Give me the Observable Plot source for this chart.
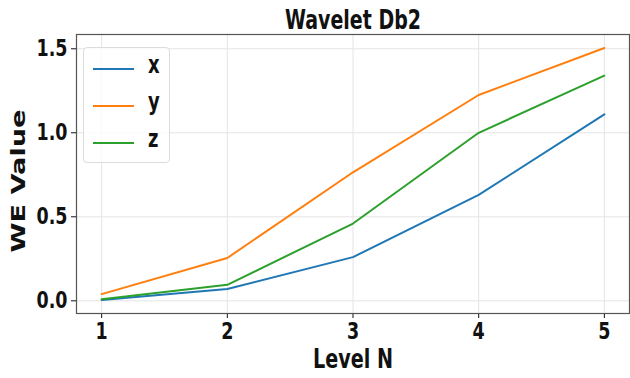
<!DOCTYPE html>
<html><head><meta charset="utf-8">
<script src="https://cdn.jsdelivr.net/npm/d3@7"></script>
<script src="https://cdn.jsdelivr.net/npm/@observablehq/plot@0.6"></script>
<style>
body{margin:0;background:#fff;}
#wrap{position:relative;width:630px;height:378px;font-family:"DejaVu Sans",sans-serif;}
#legend{position:absolute;left:83px;top:47px;width:87px;height:116px;border:1px solid #dcdcdc;border-radius:4px;background:rgba(255,255,255,0.8);box-sizing:border-box;}
.item{position:absolute;left:0;height:20px;}
.item .ln{position:absolute;left:9px;top:9px;width:41px;height:2px;}
.item .lb{position:absolute;left:64px;top:-9px;font-size:25px;font-weight:bold;color:#111;transform:scaleX(0.72);transform-origin:left center;}
#ylab{position:absolute;left:18px;top:181px;font-size:20px;line-height:20px;font-weight:bold;color:#111;white-space:nowrap;transform:translate(-50%,-50%) rotate(-90deg) scaleX(1.36);transform-origin:center center;}
</style></head>
<body><div id="wrap"></div>
<script>
const levels = [1, 2, 3, 4, 5];
const xVals = [0.005, 0.07, 0.26, 0.63, 1.11];
const yVals = [0.04, 0.255, 0.765, 1.225, 1.505];
const zVals = [0.01, 0.095, 0.46, 1.0, 1.34];
const seriesNames = ["x", "y", "z"];
const seriesColors = ["#1f77b4", "#ff7f0e", "#2ca02c"];
const yTicks = [0, 0.5, 1.0, 1.5];
const title = "Wavelet Db2";
const xLabel = "Level N";
const yLabel = "WE Value";

const allVals = [xVals, yVals, zVals];
const data = [];
seriesNames.forEach((s, i) => levels.forEach((l, j) => data.push({level: l, value: allVals[i][j], series: s})));

const plot = Plot.plot({
  width: 630, height: 378,
  marginLeft: 76, marginRight: 1, marginTop: 34, marginBottom: 65,
  style: {fontFamily: "DejaVu Sans", fontWeight: "bold", fontSize: "23px", color: "#111", background: "#fff"},
  x: {domain: [0.8, 5.2], ticks: levels, tickFormat: d3.format("d"), label: null, tickSize: 5, tickPadding: 4},
  y: {domain: [-0.0755, 1.585], ticks: yTicks, tickFormat: d3.format(".1f"), label: null, tickSize: 5, tickPadding: 4},
  color: {domain: seriesNames, range: seriesColors},
  marks: [
    Plot.gridX(levels, {stroke: "#e4e4e4", strokeOpacity: 1, strokeWidth: 1}),
    Plot.gridY(yTicks, {stroke: "#e4e4e4", strokeOpacity: 1, strokeWidth: 1}),
    Plot.line(data, {x: "level", y: "value", z: "series", stroke: "series", strokeWidth: 2}),
    Plot.frame({stroke: "#555", strokeWidth: 1.2}),
    Plot.text([title], {frameAnchor: "top", dy: -14, fontSize: 27, fontWeight: "bold", fill: "#111", lineAnchor: "middle"}),
    Plot.text([xLabel], {frameAnchor: "bottom", dy: 46, fontSize: 27, fontWeight: "bold", fill: "#111", lineAnchor: "middle"})
  ]
});
const wrap = document.getElementById("wrap");
wrap.appendChild(plot);

// reproduce the reference's horizontally squeezed lettering
const squeeze = (el, len) => { el.setAttribute("textLength", len); el.setAttribute("lengthAdjust", "spacingAndGlyphs"); };
plot.querySelectorAll("text").forEach(t => {
  const s = t.textContent;
  if (s === title) squeeze(t, 136);
  else if (s === xLabel) squeeze(t, 80);
});
plot.querySelectorAll('g[aria-label="y-axis tick label"] text, g[aria-label="x-axis tick label"] text').forEach(t => {
  squeeze(t, t.getComputedTextLength() * 0.76);
});

const ylab = document.createElement("div");
ylab.id = "ylab";
ylab.textContent = yLabel;
wrap.appendChild(ylab);

const legend = document.createElement("div");
legend.id = "legend";
seriesNames.forEach((s, i) => {
  const it = document.createElement("div");
  it.className = "item";
  it.style.top = (11 + i * 37) + "px";
  it.innerHTML = `<div class="ln" style="background:${seriesColors[i]}"></div><div class="lb">${s}</div>`;
  legend.appendChild(it);
});
wrap.appendChild(legend);
</script>
</body></html>
